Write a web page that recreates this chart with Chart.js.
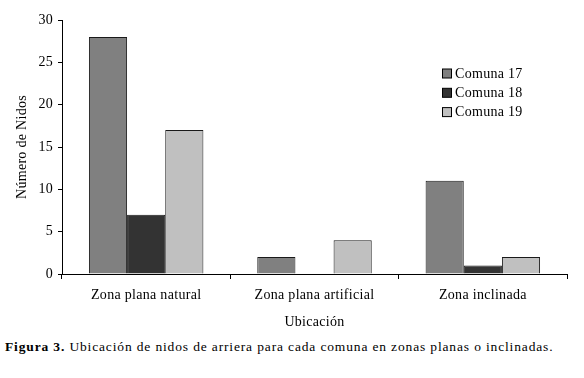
<!DOCTYPE html>
<html><head><meta charset="utf-8">
<script src="https://cdn.jsdelivr.net/npm/chart.js@4/dist/chart.umd.min.js"></script>
<style>
html,body{margin:0;padding:0;background:#fff;width:584px;height:378px;overflow:hidden;}
#wrap{position:relative;width:584px;height:335px;}
#cap{position:absolute;left:5px;top:339px;font-family:"Liberation Serif","Times New Roman",serif;font-size:13.5px;letter-spacing:0.85px;color:#000;white-space:nowrap;}
</style></head>
<body>
<div id="wrap"><canvas id="c"></canvas></div>
<div id="cap"><b>Figura 3.</b> Ubicación de nidos de arriera para cada comuna en zonas planas o inclinadas.</div>
<script>
const categories = ["Zona plana natural", "Zona plana artificial", "Zona inclinada"];
const comuna17 = [28, 2, 11];
const comuna18 = [7, 0, 1];
const comuna19 = [17, 4, 2];
const seriesLabels = ["Comuna 17", "Comuna 18", "Comuna 19"];
const yTicks = [0, 5, 10, 15, 20, 25, 30];

const colors = ["#808080", "#333333", "#c0c0c0"];
const font = {family: "'Liberation Serif', 'Times New Roman', serif", size: 14};

const spacingPlugin = {
  id: 'spacing',
  beforeDraw(chart) { chart.ctx.letterSpacing = '0.3px'; }
};

const legendPlugin = {
  id: 'customLegend',
  afterDraw(chart) {
    const ctx = chart.ctx;
    ctx.save();
    ctx.font = "14px 'Liberation Serif', 'Times New Roman', serif";
    ctx.textBaseline = 'middle';
    chart.data.datasets.forEach((ds, i) => {
      const y = 73.5 + i * 19.3;
      ctx.fillStyle = ds.backgroundColor;
      ctx.fillRect(442.5, y - 4.5, 9, 9);
      ctx.strokeStyle = '#000';
      ctx.lineWidth = 1;
      ctx.strokeRect(442.5, y - 4.5, 9, 9);
      ctx.fillStyle = '#000';
      ctx.fillText(ds.label, 455, y + 0.5);
    });
    ctx.restore();
  }
};

new Chart(document.getElementById('c'), {
  type: 'bar',
  data: {
    labels: categories,
    datasets: [comuna17, comuna18, comuna19].map((d, i) => ({
      label: seriesLabels[i],
      data: d,
      backgroundColor: colors[i],
      borderColor: '#1a1a1a',
      borderWidth: 1,
      categoryPercentage: 0.68,
      barPercentage: 1.0
    }))
  },
  options: {
    responsive: true,
    maintainAspectRatio: false,
    animation: false,
    devicePixelRatio: 1,
    layout: {padding: {top: 20, right: 17, left: 10, bottom: 0}},
    plugins: {legend: {display: false}, tooltip: {enabled: false}},
    scales: {
      x: {
        afterFit(s) { s.height = 61; },
        grid: {display: true, drawOnChartArea: false, drawTicks: true, tickLength: 5, color: '#000', offset: true},
        border: {display: true, color: '#000', width: 1},
        ticks: {color: '#000', font: font, padding: 8, maxRotation: 0},
        title: {display: true, text: 'Ubicación', color: '#000', font: font, padding: {top: 0}}
      },
      y: {
        min: 0, max: 30,
        afterFit(s) { s.width = 52; },
        afterBuildTicks(s) { s.ticks = yTicks.map(v => ({value: v})); },
        grid: {display: true, drawOnChartArea: false, drawTicks: true, tickLength: 4, color: '#000'},
        border: {display: true, color: '#000', width: 1},
        ticks: {color: '#000', font: font, padding: 5},
        title: {display: true, text: 'Número de Nidos', color: '#000', font: font, padding: {bottom: 6}}
      }
    }
  },
  plugins: [spacingPlugin, legendPlugin]
});
</script>
</body></html>
